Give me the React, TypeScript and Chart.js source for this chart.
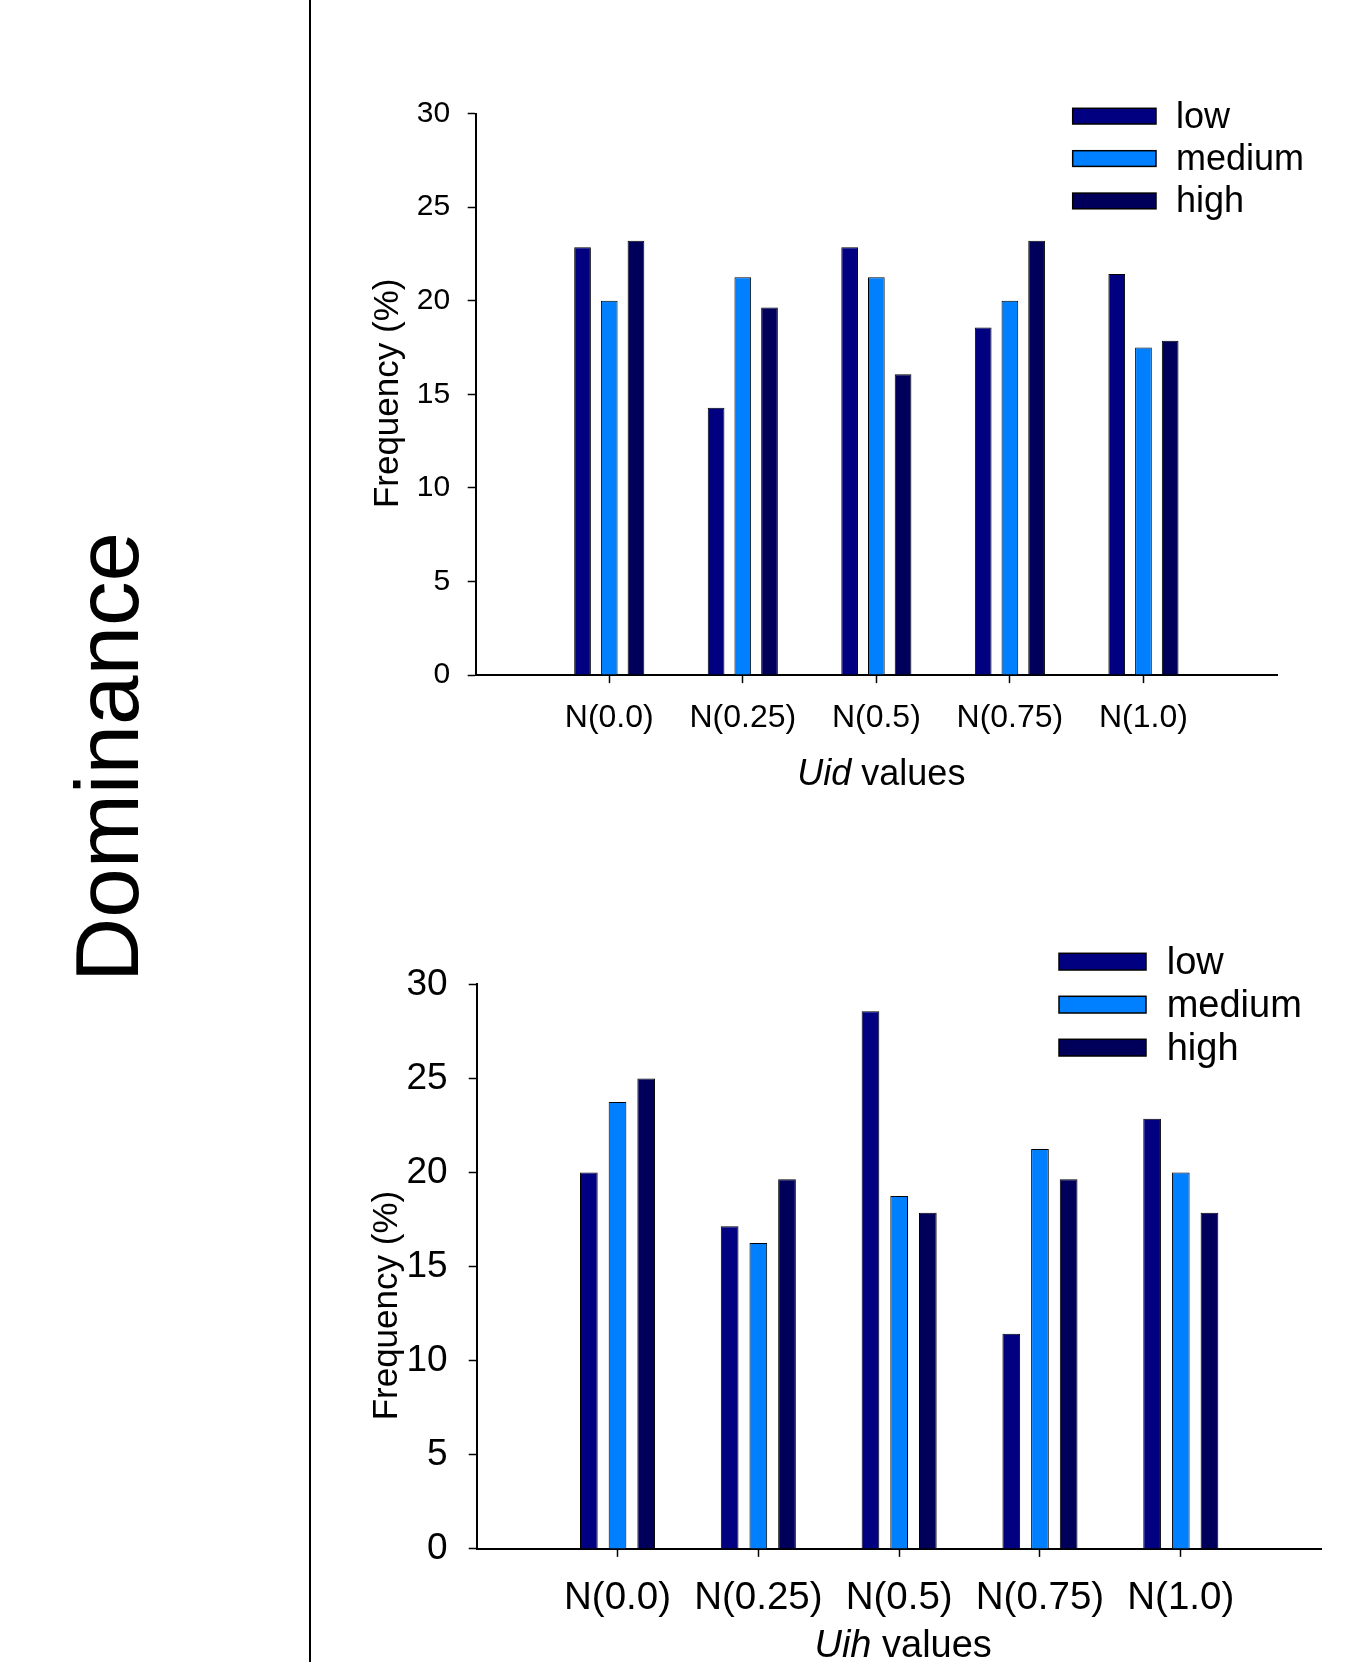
import React, { useEffect, useRef } from 'react';
import { Chart, registerables } from 'chart.js';

Chart.register(...registerables);

const FONT = "'Liberation Sans', Arial, Helvetica, sans-serif";

// ---------- data ----------
const CATEGORIES = ['N(0.0)', 'N(0.25)', 'N(0.5)', 'N(0.75)', 'N(1.0)'];
const SERIES = ['low', 'medium', 'high'];
const SERIES_COLORS = ['#000080', '#0080ff', '#00005a'];
const Y_TICKS = [0, 5, 10, 15, 20, 25, 30];

const UID_LOW = [22.86, 14.29, 22.86, 18.57, 21.43];
const UID_MEDIUM = [20.0, 21.25, 21.25, 20.0, 17.5];
const UID_HIGH = [23.21, 19.64, 16.07, 23.21, 17.86];

const UIH_LOW = [20.0, 17.14, 28.57, 11.43, 22.86];
const UIH_MEDIUM = [23.75, 16.25, 18.75, 21.25, 20.0];
const UIH_HIGH = [25.0, 19.64, 17.86, 19.64, 17.86];

const Y_TITLE = 'Frequency (%)';
const UID_TITLE = ['Uid', ' values'];
const UIH_TITLE = ['Uih', ' values'];
const PANEL_LABEL = 'Dominance';

// ---------- plugin: legend + mixed-style titles ----------
const decorPlugin = {
  id: 'figureDecor',
  afterDraw(chart: any, _args: any, opts: any) {
    const ctx = chart.ctx;
    const area = chart.chartArea;
    ctx.save();
    // legend
    const lg = opts.legend;
    chart.data.datasets.forEach((ds: any, i: number) => {
      const y = lg.top + i * lg.step;
      ctx.fillStyle = ds.backgroundColor;
      ctx.fillRect(lg.left, y, lg.boxW, lg.boxH);
      ctx.lineWidth = 1.5;
      ctx.strokeStyle = '#000';
      ctx.strokeRect(lg.left, y, lg.boxW, lg.boxH);
      ctx.fillStyle = '#000';
      ctx.font = `${lg.size}px ${FONT}`;
      ctx.textAlign = 'left';
      ctx.textBaseline = 'middle';
      ctx.fillText(ds.label, lg.textX, y + lg.boxH / 2 + lg.textDy);
    });
    // x title (italic variable + regular word)
    const xt = opts.xTitle;
    const xs = chart.scales.x;
    const fItalic = `italic ${xt.size}px ${FONT}`;
    const fNormal = `${xt.size}px ${FONT}`;
    ctx.font = fItalic;
    const w1 = ctx.measureText(xt.parts[0]).width;
    ctx.font = fNormal;
    const w2 = ctx.measureText(xt.parts[1]).width;
    const cx = (xs.left + xs.right) / 2 + xt.dx;
    const x0 = cx - (w1 + w2) / 2;
    ctx.fillStyle = '#000';
    ctx.textAlign = 'left';
    ctx.textBaseline = 'alphabetic';
    ctx.font = fItalic;
    ctx.fillText(xt.parts[0], x0, xt.baseline);
    ctx.font = fNormal;
    ctx.fillText(xt.parts[1], x0 + w1, xt.baseline);
    // y title
    const yt = opts.yTitle;
    ctx.translate(area.left + yt.dx, (area.top + area.bottom) / 2 + yt.dy);
    ctx.rotate(-Math.PI / 2);
    ctx.textAlign = 'center';
    ctx.textBaseline = 'alphabetic';
    ctx.font = `${yt.size}px ${FONT}`;
    ctx.fillText(yt.text, 0, 0);
    ctx.restore();
  },
};

type PanelProps = {
  values: number[][];
  xTitle: string[];
  left: number;
  top: number;
  width: number;
  height: number;
  padding: { top: number; right: number; bottom: number; left: number };
  yAxisW: number;
  xAxisH: number;
  catPct: number;
  barPct: number;
  yTickSize: number;
  yTickPad: number;
  xTickSize: number;
  xTickPad: number;
  legend: any;
  xTitleOpts: any;
  yTitleOpts: any;
};

function BarPanel(p: PanelProps) {
  const ref = useRef<HTMLCanvasElement | null>(null);
  useEffect(() => {
    if (!ref.current) return;
    const chart = new Chart(ref.current, {
      type: 'bar',
      data: {
        datasets: SERIES.map((name, si) => ({
          label: name,
          data: CATEGORIES.map((_c, i) => ({ x: i + 1, y: p.values[si][i] })),
          backgroundColor: SERIES_COLORS[si],
          borderColor: '#000',
          borderWidth: 1,
          categoryPercentage: p.catPct,
          barPercentage: p.barPct,
        })),
      },
      options: {
        animation: false,
        responsive: false,
        maintainAspectRatio: false,
        layout: { padding: p.padding },
        plugins: {
          legend: { display: false },
          tooltip: { enabled: false },
          figureDecor: {
            legend: p.legend,
            xTitle: { ...p.xTitleOpts, parts: p.xTitle },
            yTitle: { ...p.yTitleOpts, text: Y_TITLE },
          },
        } as any,
        scales: {
          x: {
            type: 'linear',
            min: 0,
            max: CATEGORIES.length + 1,
            offset: false,
            z: 1,
            afterBuildTicks: (s: any) => {
              s.ticks = CATEGORIES.map((_c, i) => ({ value: i + 1 }));
            },
            afterFit: (s: any) => {
              s.height = p.xAxisH;
            },
            grid: {
              display: true,
              drawOnChartArea: false,
              drawTicks: true,
              tickLength: 8,
              tickColor: '#000',
              tickWidth: 1.5,
              offset: false,
            },
            border: { display: true, color: '#000', width: 2 },
            ticks: {
              autoSkip: false,
              maxRotation: 0,
              color: '#000',
              padding: p.xTickPad,
              font: { size: p.xTickSize, family: FONT },
              callback: (v: any) => CATEGORIES[Number(v) - 1] ?? '',
            },
          },
          y: {
            min: Y_TICKS[0],
            max: Y_TICKS[Y_TICKS.length - 1],
            z: 1,
            afterFit: (s: any) => {
              s.width = p.yAxisW;
            },
            grid: {
              display: true,
              drawOnChartArea: false,
              drawTicks: true,
              tickLength: 8,
              tickColor: '#000',
              tickWidth: 1.5,
            },
            border: { display: true, color: '#000', width: 2 },
            ticks: {
              stepSize: Y_TICKS[1] - Y_TICKS[0],
              color: '#000',
              padding: p.yTickPad,
              font: { size: p.yTickSize, family: FONT },
            },
          },
        } as any,
      },
      plugins: [decorPlugin as any],
    });
    return () => chart.destroy();
  }, []);
  return (
    <canvas
      ref={ref}
      width={p.width}
      height={p.height}
      style={{ position: 'absolute', left: p.left, top: p.top, width: p.width, height: p.height }}
    />
  );
}

export default function App() {
  return (
    <div
      style={{
        position: 'absolute',
        left: 0,
        top: 0,
        width: 1361,
        height: 1662,
        background: '#fff',
        overflow: 'hidden',
        fontFamily: FONT,
      }}
    >
      <div
        style={{
          position: 'absolute',
          left: 107,
          top: 757,
          transform: 'translate(-50%, -50%) rotate(-90deg)',
          fontSize: 89,
          lineHeight: '89px',
          whiteSpace: 'nowrap',
          color: '#000',
        }}
      >
        {PANEL_LABEL}
      </div>
      <div style={{ position: 'absolute', left: 309, top: 0, width: 2.4, height: 1662, background: '#000' }} />
      <BarPanel
        values={[UID_LOW, UID_MEDIUM, UID_HIGH]}
        xTitle={UID_TITLE}
        left={330}
        top={40}
        width={1031}
        height={780}
        padding={{ top: 73.6, right: 84, bottom: 0, left: 0 }}
        yAxisW={145.7}
        xAxisH={144.9}
        catPct={0.6}
        barPct={0.625}
        yTickSize={30}
        yTickPad={17.5}
        xTickSize={32}
        xTickPad={16}
        legend={{ left: 742.7, top: 68.3, boxW: 83.3, boxH: 15.7, step: 42.4, textX: 846, size: 36, textDy: 1.5 }}
        xTitleOpts={{ size: 36, baseline: 745, dx: 5 }}
        yTitleOpts={{ size: 35, dx: -78, dy: -1 }}
      />
      <BarPanel
        values={[UIH_LOW, UIH_MEDIUM, UIH_HIGH]}
        xTitle={UIH_TITLE}
        left={330}
        top={900}
        width={1031}
        height={762}
        padding={{ top: 84.3, right: 39.4, bottom: 0, left: 0 }}
        yAxisW={146.7}
        xAxisH={113.1}
        catPct={0.611}
        barPct={0.617}
        yTickSize={37}
        yTickPad={21}
        xTickSize={38.5}
        xTickPad={18}
        legend={{ left: 729, top: 53.3, boxW: 87, boxH: 16.7, step: 43, textX: 836.7, size: 38, textDy: 2 }}
        xTitleOpts={{ size: 38, baseline: 757, dx: 4 }}
        yTitleOpts={{ size: 35, dx: -80, dy: 39 }}
      />
    </div>
  );
}
